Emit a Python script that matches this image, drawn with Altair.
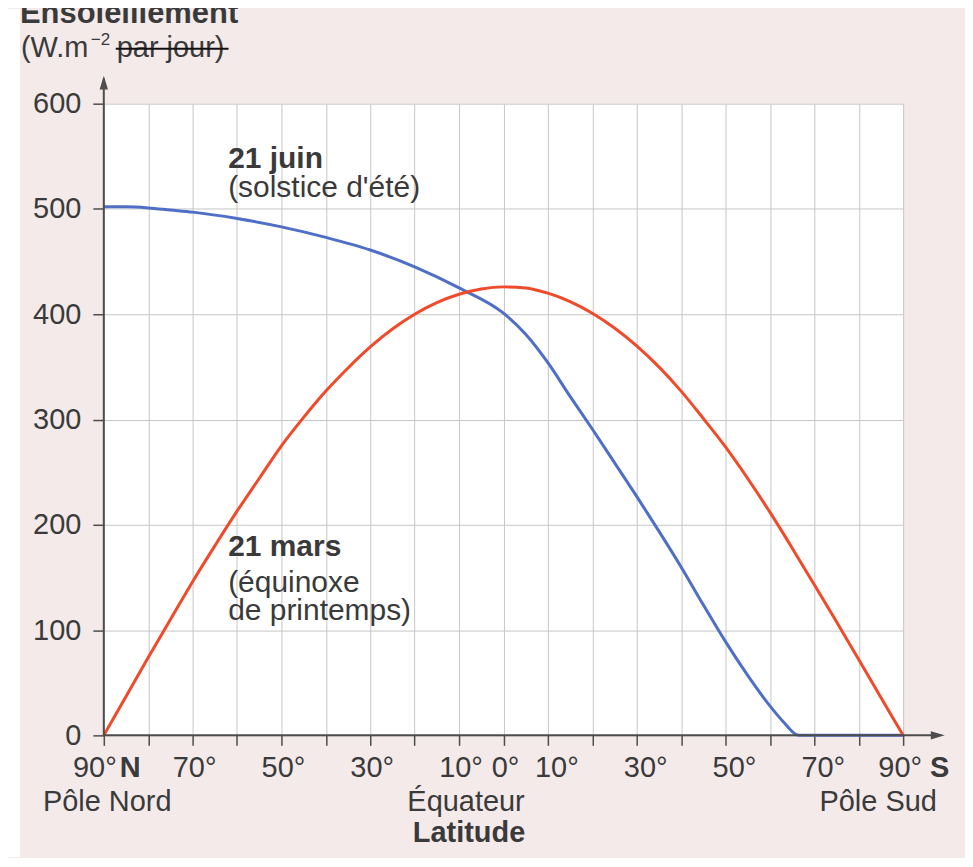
import altair as alt
import pandas as pd

# ---------------- data ----------------
lat_juin = [90, 85, 80, 75, 70, 60, 50, 40, 30, 20, 10, 0, -5, -10, -15, -20, -25, -30, -35,
            -40, -45, -50, -55, -60, -63, -66.5, -70, -80, -90]
juin = [502, 502, 501, 499, 497, 491, 483, 473, 461, 445, 425, 401, 381, 354, 322, 291, 259, 227, 194,
        160, 124, 89, 57, 28, 13, 0, 0, 0, 0]

lat_mars = [90, 85, 80, 75, 70, 65, 60, 55, 50, 45, 40, 35, 30, 25, 20, 15, 10, 5, 0,
            -5, -10, -15, -20, -25, -30, -35, -40, -45, -50, -55, -60, -65, -70, -75, -80, -85, -90]
mars = [0, 37, 74, 110, 146, 180, 213, 244, 275, 302, 327, 349, 369, 386, 400, 411, 419, 424, 426,
        425, 420, 412, 401, 387, 370, 350, 327, 301, 274, 244, 212, 178, 143, 108, 72, 36, 0]

tick_lat = [90, 80, 70, 60, 50, 40, 30, 20, 10, 0, -10, -20, -30, -40, -50, -60, -70, -80, -90]
y_ticks = [0, 100, 200, 300, 400, 500, 600]

north_lat = [70, 50, 30, 10, 0]
north_txt = ["70°", "50°", "30°", "10°", "0°"]
south_lat = [-10, -30, -50, -70]
south_txt = ["10°", "30°", "50°", "70°"]

# ---------------- styling ----------------
W, H = 801, 633
FONT = "Liberation Sans"
TXT = "#3a3a3a"
AX = "#4d4d4d"
BLUE = "#4f6fc6"
RED = "#f04a2a"
PINK = "#f4eaea"
GRID = "#c8c6c6"
FS = 29
FA = 30

xs = alt.Scale(domain=[-90, 90], reverse=True, nice=False, zero=False)
ys = alt.Scale(domain=[0, 600], nice=False, zero=False)

df_j = pd.DataFrame({"lat": lat_juin, "val": juin})
df_m = pd.DataFrame({"lat": lat_mars, "val": mars})

x_axis = alt.Axis(values=tick_lat, grid=True, gridColor=GRID, gridWidth=1,
                  ticks=True, tickSize=10, tickColor=AX, tickWidth=1.5,
                  labels=False, domain=False, title=None)
y_axis = alt.Axis(values=y_ticks, grid=True, gridColor=GRID, gridWidth=1,
                  ticks=True, tickSize=11, tickColor=AX, tickWidth=1.5,
                  labelFont=FONT, labelFontSize=FS, labelColor=TXT, labelPadding=12,
                  domain=False, title=None)

one = pd.DataFrame({"a": [0]})

# white strip at the far left of the page (as in the scan)
strip = alt.Chart(one).mark_rect(color="white").encode(
    x=alt.value(-96), x2=alt.value(-84), y=alt.value(-95), y2=alt.value(755))

line_j = alt.Chart(df_j).mark_line(color=BLUE, strokeWidth=3, interpolate="monotone").encode(
    x=alt.X("lat:Q", scale=xs, axis=x_axis),
    y=alt.Y("val:Q", scale=ys, axis=y_axis),
)
line_m = alt.Chart(df_m).mark_line(color=RED, strokeWidth=3, interpolate="monotone").encode(
    x=alt.X("lat:Q", scale=xs),
    y=alt.Y("val:Q", scale=ys),
)

# axis lines with arrows
yline = alt.Chart(one).mark_rule(color=AX, strokeWidth=2).encode(
    x=alt.datum(90, scale=xs), y=alt.datum(0, scale=ys), y2=alt.datum(624))
xline = alt.Chart(one).mark_rule(color=AX, strokeWidth=2).encode(
    x=alt.datum(90, scale=xs), x2=alt.datum(-97), y=alt.datum(0, scale=ys))
yarrow = alt.Chart(one).mark_point(
    shape="M0,-1L0.6,1L-0.6,1Z", filled=True, color=AX, opacity=1, size=196).encode(
    x=alt.datum(90, scale=xs), y=alt.datum(620, scale=ys))
xarrow = alt.Chart(one).mark_point(
    shape="M1,0L-1,-0.6L-1,0.6Z", filled=True, color=AX, opacity=1, size=196).encode(
    x=alt.datum(-97.8, scale=xs), y=alt.datum(0, scale=ys))


def lab(lats, txts, dx):
    d = pd.DataFrame({"lat": lats, "t": txts})
    return alt.Chart(d).mark_text(font=FONT, fontSize=FS, color=TXT, align="center",
                                  baseline="alphabetic", dx=dx).encode(
        x=alt.X("lat:Q", scale=xs), y=alt.value(675), text="t:N")


def txt(t, x, y, size=FS, weight="normal", align="left", color=TXT, dx=0):
    return alt.Chart(one).mark_text(
        text=t, font=FONT, fontSize=size, fontWeight=weight, color=color,
        align=align, baseline="alphabetic", dx=dx).encode(x=x, y=y)


layers = [
    strip, line_j, line_m, yline, xline, yarrow, xarrow,
    lab(north_lat, north_txt, 2),
    lab(south_lat, south_txt, 9),
    txt("90°", alt.datum(90, scale=xs), alt.value(675), align="right", dx=13),
    txt("N", alt.datum(90, scale=xs), alt.value(675), weight="bold", dx=16),
    txt("90°", alt.datum(-90, scale=xs), alt.value(675), align="right", dx=19),
    txt("S", alt.datum(-90, scale=xs), alt.value(675), weight="bold", dx=27),
    txt("Pôle Nord", alt.value(-61), alt.value(709)),
    txt("Équateur", alt.value(363), alt.value(709), align="center"),
    txt("Pôle Sud", alt.value(776), alt.value(709), align="center"),
    txt("Latitude", alt.value(366), alt.value(740), weight="bold", align="center"),
    # y title
    txt("Ensoleillement", alt.value(-84), alt.value(-81), size=31, weight="bold"),
    txt("(W.m", alt.value(-83), alt.value(-47)),
    txt("−2", alt.value(-13), alt.value(-59), size=17),
    txt("par jour)", alt.value(13), alt.value(-47)),
    # annotations
    txt("21 juin", alt.datum(62, scale=xs), alt.datum(539, scale=ys), size=FA, weight="bold"),
    txt("(solstice d'été)", alt.datum(62, scale=xs), alt.datum(511, scale=ys), size=FA),
    txt("21 mars", alt.datum(62, scale=xs), alt.datum(170, scale=ys), size=FA, weight="bold"),
    txt("(équinoxe", alt.datum(62, scale=xs), alt.datum(136.5, scale=ys), size=FA),
    txt("de printemps)", alt.datum(62, scale=xs), alt.datum(110, scale=ys), size=FA),
]

strike = alt.Chart(one).mark_rule(color="#111111", strokeWidth=2).encode(
    x=alt.value(12), x2=alt.value(125), y=alt.value(-55))
layers.append(strike)

chart = alt.layer(*layers).properties(
    width=W, height=H,
    autosize=alt.AutoSizeParams(type="none"),
    padding={"left": 96, "top": 95, "right": 62, "bottom": 122},
    background=PINK,
).configure_view(fill="white", stroke=None)

chart.save("out.html", embed_options={"renderer": "svg", "actions": False})
